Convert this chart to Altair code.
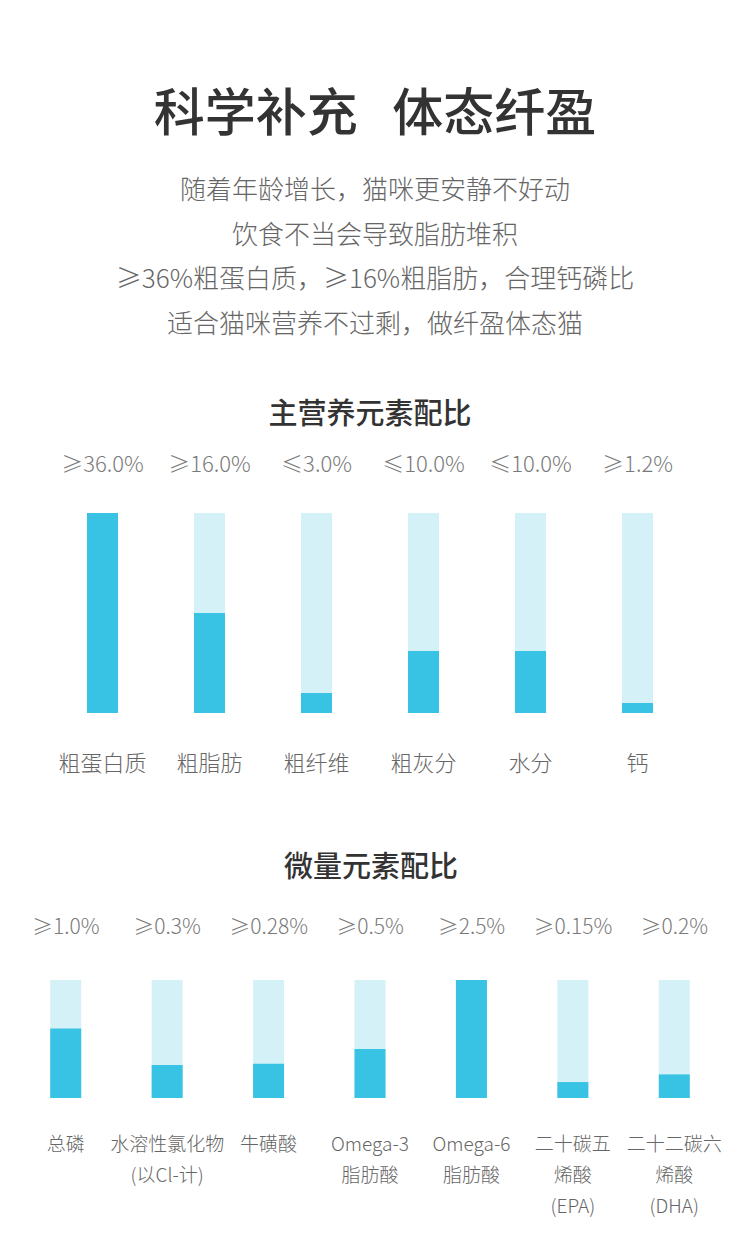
import altair as alt
import pandas as pd

# ---------------- data ----------------
title_text = "科学补充\u00a0\u00a0\u00a0体态纤盈"
subtitle_lines = [
    "随着年龄增长，猫咪更安静不好动",
    "饮食不当会导致脂肪堆积",
    "≥36%粗蛋白质，≥16%粗脂肪，合理钙磷比",
    "适合猫咪营养不过剩，做纤盈体态猫",
]

main_heading = "主营养元素配比"
main_names = ["粗蛋白质", "粗脂肪", "粗纤维", "粗灰分", "水分", "钙"]
main_pct = ["≥36.0%", "≥16.0%", "≤3.0%", "≤10.0%", "≤10.0%", "≥1.2%"]
main_fill = [1.0, 0.50, 0.10, 0.31, 0.31, 0.05]

micro_heading = "微量元素配比"
micro_names = ["总磷", "水溶性氯化物\n(以Cl-计)", "牛磺酸", "Omega-3\n脂肪酸",
               "Omega-6\n脂肪酸", "二十碳五\n烯酸\n(EPA)", "二十二碳六\n烯酸\n(DHA)"]
micro_pct = ["≥1.0%", "≥0.3%", "≥0.28%", "≥0.5%", "≥2.5%", "≥0.15%", "≥0.2%"]
micro_fill = [0.59, 0.28, 0.29, 0.415, 1.0, 0.135, 0.20]

# ---------------- style ----------------
FONT = "Noto Sans CJK SC"
DARK = "#38c3e4"
LIGHT = "#d5f1f8"

def panel(names, pct, fill, x_range, y_range, pct_y, name_y, pct_size, name_size, bar_w, name_lh):
    df = pd.DataFrame({"name": names, "pct": pct, "fill": fill, "full": [1.0] * len(names)})
    xs = alt.X("name:N", sort=names, axis=None,
               scale=alt.Scale(domain=names, range=x_range, paddingInner=0, paddingOuter=0))
    ys = alt.Scale(domain=[0, 1], range=y_range)
    base = alt.Chart(df)
    bg = base.mark_bar(color=LIGHT, size=bar_w).encode(
        x=xs, y=alt.Y("full:Q", scale=ys, axis=None))
    fg = base.mark_bar(color=DARK, size=bar_w).encode(
        x=xs, y=alt.Y("fill:Q", scale=ys, axis=None))
    pt = base.mark_text(font=FONT, fontSize=pct_size, color="#7a7a7a", fontWeight=300,
                        baseline="middle").encode(x=xs, y=alt.value(pct_y), text="pct:N")
    nt = base.mark_text(font=FONT, fontSize=name_size, color="#666666", fontWeight=300,
                        baseline="middle", lineBreak="\n", lineHeight=name_lh).encode(
        x=xs, y=alt.value(name_y), text="name:N")
    return alt.layer(bg, fg, pt, nt)

p1 = panel(main_names, main_pct, main_fill, [49, 691], [713, 513], 465, 764, 22, 22, 31, 31)
p2 = panel(micro_names, micro_pct, micro_fill, [15, 725], [1098, 980], 928, 1145, 21, 19, 31, 31)

tdf = pd.DataFrame({"t": [title_text]})
title = alt.Chart(tdf).mark_text(font=FONT, fontSize=51, fontWeight=500, color="#333333",
                                 baseline="middle").encode(
    x=alt.value(375), y=alt.value(116), text="t:N")

sdf = pd.DataFrame({"t": ["\n".join(subtitle_lines)]})
sub = alt.Chart(sdf).mark_text(font=FONT, fontSize=26, fontWeight=300, color="#666666",
                               baseline="top", lineBreak="\n", lineHeight=44.5).encode(
    x=alt.value(375), y=alt.value(178), text="t:N")

h1 = alt.Chart(pd.DataFrame({"t": [main_heading]})).mark_text(
    font=FONT, fontSize=29, fontWeight=500, color="#333333", baseline="middle").encode(
    x=alt.value(370), y=alt.value(415), text="t:N")
h2 = alt.Chart(pd.DataFrame({"t": [micro_heading]})).mark_text(
    font=FONT, fontSize=29, fontWeight=500, color="#333333", baseline="middle").encode(
    x=alt.value(371), y=alt.value(868), text="t:N")

chart = alt.layer(title, sub, h1, h2, p1, p2).resolve_scale(
    x="independent", y="independent"
).properties(
    width=750, height=1244, padding=0, autosize=alt.AutoSizeParams(type="none"),
    background="white"
).configure_view(stroke=None)

chart.save("out.html", embed_options={"renderer": "svg", "actions": False})
